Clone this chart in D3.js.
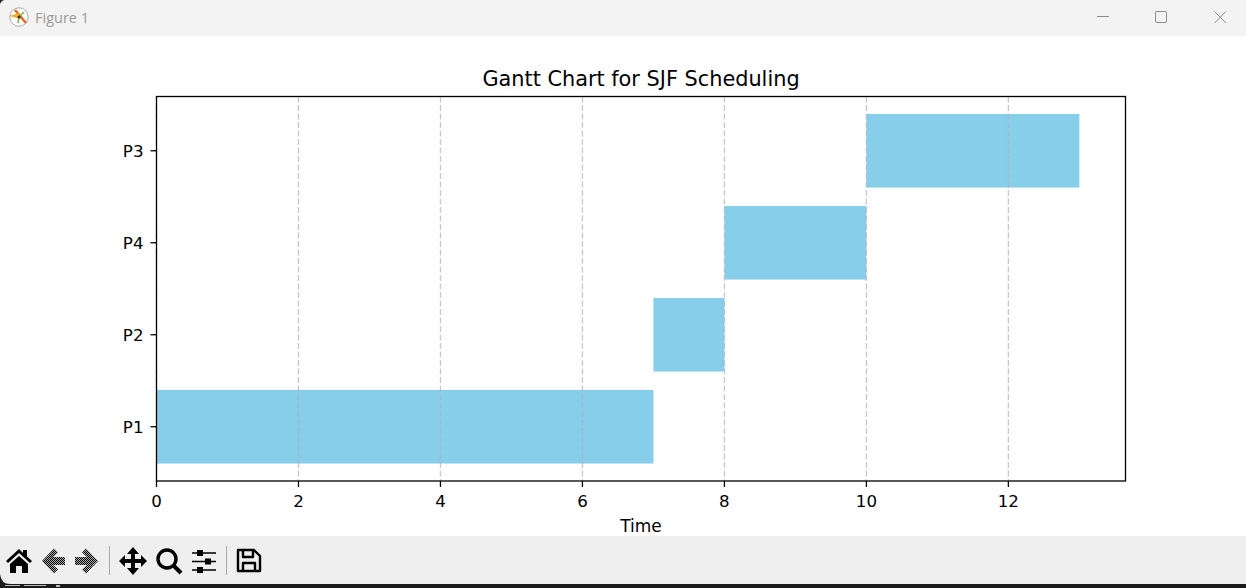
<!DOCTYPE html>
<html>
<head>
<meta charset="utf-8">
<title>Figure 1</title>
<script src="https://cdn.jsdelivr.net/npm/d3@7"></script>
<style>
  html, body { margin: 0; padding: 0; background: #fff; overflow: hidden; }
  svg { display: block; font-family: "DejaVu Sans", sans-serif; }
</style>
</head>
<body>
<svg id="chart" width="1246" height="588"></svg>
<script>
const processes = ["P1", "P2", "P4", "P3"];
const starts = [0, 7, 8, 10];
const durations = [7, 1, 2, 3];
const xTicks = [0, 2, 4, 6, 8, 10, 12];
const xMax = 13.65;
const yExtent = [-0.59, 3.59];
const barHeight = 0.8;

const width = 1246, height = 588;
const margin = { top: 96.5, right: 120.5, bottom: 107, left: 156.5 };

const svg = d3.select("#chart");

// window chrome
svg.append("rect").attr("width", width).attr("height", height).attr("fill", "#fff");
svg.append("rect").attr("width", width).attr("height", 36).attr("fill", "#f3f3f3");
svg.append("rect").attr("y", 536).attr("width", width).attr("height", 48).attr("fill", "#efefef");
svg.append("rect").attr("y", 584).attr("width", width).attr("height", 4).attr("fill", "#1c1c1c");
svg.append("path").attr("fill", "#2a2a2a").attr("d", "M0,0H4Q1,1 0,4Z");
svg.append("path").attr("fill", "#1c1c1c").attr("d", "M0,574Q1,584 10,584H0Z");
svg.append("path").attr("fill", "#bbb").attr("d", "M5,585H20V586H5Z M24,585H46V586H24Z M56,585H60V587H56Z");

svg.append("text").attr("x", 35).attr("y", 23)
  .attr("font-family", "'Open Sans', sans-serif").attr("font-size", 14.5).attr("fill", "#9a9a9a")
  .text("Figure 1");

const logo = svg.append("g").attr("transform", "translate(19,17)");
logo.append("circle").attr("r", 9.2).attr("fill", "#fff").attr("stroke", "#aaa");
logo.append("path").attr("d", "M-4,-7L7,6").attr("stroke", "#e8641b").attr("stroke-width", 2.4);
logo.append("path").attr("d", "M-7,-1L-1,-3L0,1Z").attr("fill", "#f0b020").attr("stroke", "#f0b020").attr("stroke-width", 1.5);
logo.append("path").attr("d", "M0,0L5,-5M0,1L-1,6").attr("stroke", "#7cb342").attr("stroke-width", 1.6);
logo.append("circle").attr("r", 1.5).attr("fill", "#333");

const winBtn = svg.append("g").attr("fill", "none").attr("stroke", "#8c8c8c").attr("stroke-width", 1);
winBtn.append("path").attr("d", "M1097,16.5H1109");
winBtn.append("rect").attr("x", 1155.5).attr("y", 11.5).attr("width", 11).attr("height", 11).attr("rx", 1.5);
winBtn.append("path").attr("d", "M1214.5,11.5L1226,23M1226,11.5L1214.5,23");

// plot
const x = d3.scaleLinear().domain([0, xMax]).range([margin.left, width - margin.right]);
const y = d3.scaleLinear().domain(yExtent).range([height - margin.bottom, margin.top]);

svg.append("g").selectAll("rect")
  .data(processes)
  .join("rect")
  .attr("x", (d, i) => x(starts[i]))
  .attr("y", (d, i) => y(i + barHeight / 2))
  .attr("width", (d, i) => x(starts[i] + durations[i]) - x(starts[i]))
  .attr("height", y(0) - y(barHeight))
  .attr("fill", "#87ceeb");

svg.append("g").selectAll("line")
  .data(xTicks)
  .join("line")
  .attr("x1", d => x(d)).attr("x2", d => x(d))
  .attr("y1", margin.top).attr("y2", height - margin.bottom)
  .attr("stroke", "#b0b0b0").attr("stroke-opacity", 0.7)
  .attr("stroke-width", 1.3).attr("stroke-dasharray", "6,2.5");

const xAxis = svg.append("g")
  .attr("transform", `translate(0,${height - margin.bottom})`)
  .call(d3.axisBottom(x).tickValues(xTicks).tickFormat(d3.format("d")).tickSize(6).tickPadding(8));

const yAxis = svg.append("g")
  .attr("transform", `translate(${margin.left},0)`)
  .call(d3.axisLeft(y).tickValues(d3.range(processes.length)).tickFormat(i => processes[i]).tickSize(6).tickPadding(7));

[xAxis, yAxis].forEach(a => {
  a.select(".domain").remove();
  a.attr("font-family", "'DejaVu Sans', sans-serif").attr("font-size", 16.67);
  a.selectAll("line").attr("stroke", "#000").attr("stroke-width", 1.3);
  a.selectAll("text").attr("fill", "#000");
});
// d3 nudges ticks by half a pixel, the frame already sits on it
xAxis.selectAll(".tick").attr("transform", d => `translate(${x(d)},0)`);
yAxis.selectAll(".tick").attr("transform", d => `translate(0,${y(d)})`);
yAxis.selectAll("text").attr("dy", "0.4em");

svg.append("rect")
  .attr("x", margin.left).attr("y", margin.top)
  .attr("width", width - margin.left - margin.right)
  .attr("height", height - margin.top - margin.bottom)
  .attr("fill", "none").attr("stroke", "#000").attr("stroke-width", 1.3);

svg.append("text")
  .attr("x", (margin.left + width - margin.right) / 2).attr("y", 86)
  .attr("text-anchor", "middle").attr("font-size", 20.83).attr("fill", "#000")
  .text("Gantt Chart for SJF Scheduling");

svg.append("text")
  .attr("x", (margin.left + width - margin.right) / 2).attr("y", 532)
  .attr("text-anchor", "middle").attr("font-size", 17).attr("fill", "#000")
  .text("Time");

// toolbar
const defs = svg.append("defs");
const dither = defs.append("pattern").attr("id", "dither")
  .attr("width", 2).attr("height", 2).attr("patternUnits", "userSpaceOnUse");
dither.append("rect").attr("width", 2).attr("height", 2).attr("fill", "#aaa");
dither.append("rect").attr("width", 1).attr("height", 1).attr("fill", "#000");
dither.append("rect").attr("x", 1).attr("y", 1).attr("width", 1).attr("height", 1).attr("fill", "#000");

const bar = svg.append("g");
// home
bar.append("path").attr("fill", "#000")
  .attr("d", "M6,561L19,549L23,553V550H27V556.5L32,561L30,563L19,553L8,563Z M10,564L19,556L28,564V573H22V566H16V573H10Z");
// back, forward
bar.append("path").attr("fill", "url(#dither)")
  .attr("d", "M42,561L54,548.5L58,552.5L53,557H65V565H53L58,569.5L54,573.5Z");
bar.append("path").attr("fill", "url(#dither)")
  .attr("d", "M98,561L86,548.5L82,552.5L87,557H75V565H87L82,569.5L86,573.5Z");
// separators
bar.append("path").attr("stroke", "#aaa").attr("fill", "none").attr("d", "M109.5,546V575M226.5,546V575");
// pan
bar.append("path").attr("fill", "#000")
  .attr("d", "M133,547L139,554H135V559H141V555L147,561L141,567V563H135V568H139L133,575L127,568H131V563H125V567L119,561L125,555V559H131V554H127Z");
// zoom
bar.append("circle").attr("cx", 167).attr("cy", 559).attr("r", 9)
  .attr("fill", "none").attr("stroke", "#000").attr("stroke-width", 3.4);
bar.append("path").attr("stroke", "#000").attr("stroke-width", 4).attr("d", "M173.5,565.5L181,573");
// configure
const sliders = bar.append("g");
sliders.append("path").attr("stroke", "#000").attr("stroke-width", 1.6).attr("d", "M192,553H216M192,561.5H216M192,570H216");
sliders.append("rect").attr("x", 197).attr("y", 550).attr("width", 6).attr("height", 6).attr("fill", "#000");
sliders.append("rect").attr("x", 205).attr("y", 558.5).attr("width", 6).attr("height", 6).attr("fill", "#000");
sliders.append("rect").attr("x", 197).attr("y", 567).attr("width", 6).attr("height", 6).attr("fill", "#000");
// save
bar.append("path").attr("fill", "none").attr("stroke", "#000").attr("stroke-width", 2.4)
  .attr("stroke-linejoin", "round")
  .attr("d", "M238,550H254L260,556V571H238Z M243,550V557H253V550 M243,571V563H255V571");
</script>
</body>
</html>
